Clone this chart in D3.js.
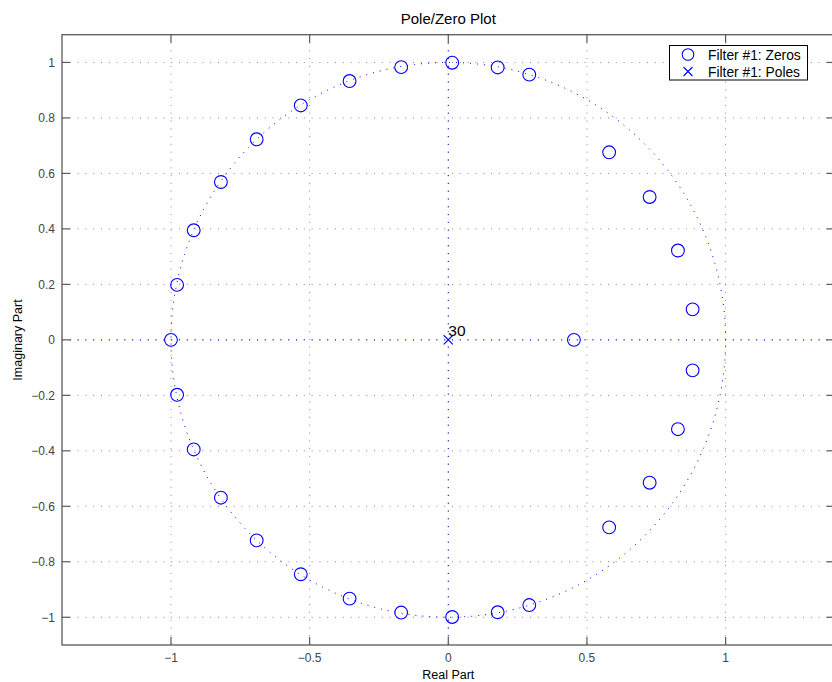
<!DOCTYPE html>
<html>
<head>
<meta charset="utf-8">
<script src="https://cdn.jsdelivr.net/npm/d3@7"></script>
<style>
  html, body { margin: 0; padding: 0; background: #fff; }
  svg { display: block; font-family: "Liberation Sans", Arial, Helvetica, sans-serif; }
</style>
</head>
<body>
<svg id="chart" width="832" height="682"></svg>
<script>
// ---- data ----
const zerosRe = [-0.170, 0.014, 0.178, 0.292, -0.356, -0.532, -0.691, -0.820, -0.918, -0.978,
                 0.580, 0.726, 0.828, 0.881,
                 -1.000, 0.453,
                 -0.170, 0.014, 0.178, 0.292, -0.356, -0.532, -0.691, -0.820, -0.918, -0.978,
                 0.580, 0.726, 0.828, 0.881];
const zerosIm = [0.983, 0.999, 0.982, 0.956, 0.933, 0.845, 0.723, 0.569, 0.395, 0.198,
                 0.676, 0.515, 0.322, 0.110,
                 0.000, 0.000,
                 -0.983, -0.999, -0.982, -0.956, -0.933, -0.845, -0.723, -0.569, -0.395, -0.198,
                 -0.676, -0.515, -0.322, -0.110];
const polesRe = [0];
const polesIm = [0];
const poleMultiplicity = ["30"];
const xTicks = [-1, -0.5, 0, 0.5, 1];
const xTickLabels = ["\u22121", "\u22120.5", "0", "0.5", "1"];
const yTicks = [-1, -0.8, -0.6, -0.4, -0.2, 0, 0.2, 0.4, 0.6, 0.8, 1];
const yTickLabels = ["\u22121", "\u22120.8", "\u22120.6", "\u22120.4", "\u22120.2", "0", "0.2", "0.4", "0.6", "0.8", "1"];
const legendLabels = ["Filter #1: Zeros", "Filter #1: Poles"];
const titleText = "Pole/Zero Plot";
const xLabelText = "Real Part";
const yLabelText = "Imaginary Part";

// ---- layout ----
const svg = d3.select("#chart");
const L = 62, R = 834.6, T = 34.7, B = 645;
const x = d3.scaleLinear().domain([-1.393, 1.393]).range([L, R]);
const y = d3.scaleLinear().domain([-1.1, 1.1]).range([B, T]);
const blue = "#0000ff";
const axisCol = "#5a5a5a";

svg.append("defs").append("clipPath").attr("id", "clip")
  .append("rect").attr("x", L).attr("y", T).attr("width", R - L).attr("height", B - T);

const plot = svg.append("g").attr("clip-path", "url(#clip)");

// grid
plot.selectAll(".gx").data(xTicks).enter().append("line")
  .attr("x1", d => x(d)).attr("x2", d => x(d)).attr("y1", T).attr("y2", B)
  .attr("stroke", "#888").attr("stroke-width", 1).attr("stroke-dasharray", "1,6.8");
plot.selectAll(".gy").data(yTicks).enter().append("line")
  .attr("y1", d => y(d)).attr("y2", d => y(d)).attr("x1", L).attr("x2", R)
  .attr("stroke", "#888").attr("stroke-width", 1).attr("stroke-dasharray", "1,6.8");

// unit circle & axes lines (blue dotted)
const circ = d3.range(0, 361, 1).map(a => [Math.cos(a * Math.PI / 180), Math.sin(a * Math.PI / 180)]);
plot.append("path")
  .attr("d", d3.line().x(d => x(d[0])).y(d => y(d[1]))(circ))
  .attr("fill", "none").attr("stroke", blue).attr("stroke-width", 1).attr("stroke-dasharray", "1,6");
plot.append("line").attr("x1", L).attr("x2", R).attr("y1", y(0)).attr("y2", y(0))
  .attr("stroke", blue).attr("stroke-width", 1).attr("stroke-dasharray", "1,6.8");
plot.append("line").attr("x1", x(0)).attr("x2", x(0)).attr("y1", T).attr("y2", B)
  .attr("stroke", blue).attr("stroke-width", 1).attr("stroke-dasharray", "1,6.8");

// zeros
plot.selectAll(".zero").data(zerosRe.map((r, i) => [r, zerosIm[i]])).enter().append("circle")
  .attr("cx", d => x(d[0])).attr("cy", d => y(d[1])).attr("r", 6.4)
  .attr("fill", "none").attr("stroke", blue).attr("stroke-width", 1.1);

// poles
const poles = polesRe.map((r, i) => [r, polesIm[i], poleMultiplicity[i]]);
const s = 4.6;
poles.forEach(p => {
  const px = x(p[0]), py = y(p[1]);
  plot.append("path")
    .attr("d", `M${px - s},${py - s}L${px + s},${py + s}M${px - s},${py + s}L${px + s},${py - s}`)
    .attr("stroke", blue).attr("stroke-width", 1.1).attr("fill", "none");
  svg.append("text").attr("x", px).attr("y", py - 3.5).text(p[2])
    .attr("font-size", 15.5).attr("fill", "#000");
});

// axes box
svg.append("rect").attr("x", L).attr("y", T).attr("width", R - L).attr("height", B - T)
  .attr("fill", "none").attr("stroke", axisCol).attr("stroke-width", 1.3);

// ticks (inward, all four sides)
const tl = 8;
xTicks.forEach(d => {
  svg.append("line").attr("x1", x(d)).attr("x2", x(d)).attr("y1", B).attr("y2", B - tl)
    .attr("stroke", axisCol).attr("stroke-width", 1.2);
  svg.append("line").attr("x1", x(d)).attr("x2", x(d)).attr("y1", T).attr("y2", T + tl)
    .attr("stroke", axisCol).attr("stroke-width", 1.2);
});
yTicks.forEach(d => {
  svg.append("line").attr("y1", y(d)).attr("y2", y(d)).attr("x1", L).attr("x2", L + tl)
    .attr("stroke", axisCol).attr("stroke-width", 1.2);
  svg.append("line").attr("y1", y(d)).attr("y2", y(d)).attr("x1", R).attr("x2", R - tl)
    .attr("stroke", axisCol).attr("stroke-width", 1.2);
});

// tick labels
svg.selectAll(".xtl").data(xTicks).enter().append("text")
  .attr("x", d => x(d)).attr("y", B + 17).attr("text-anchor", "middle")
  .attr("font-size", 12).attr("fill", "#444").text((d, i) => xTickLabels[i]);
svg.selectAll(".ytl").data(yTicks).enter().append("text")
  .attr("x", L - 7).attr("y", d => y(d) + 4.3).attr("text-anchor", "end")
  .attr("font-size", 12).attr("fill", "#444").text((d, i) => yTickLabels[i]);

// title & labels
svg.append("text").attr("x", 448.3).attr("y", 24).attr("text-anchor", "middle")
  .attr("font-size", 15).attr("fill", "#000").text(titleText);
svg.append("text").attr("x", 448.3).attr("y", 679).attr("text-anchor", "middle")
  .attr("font-size", 12.5).attr("fill", "#000").text(xLabelText);
svg.append("text").attr("transform", "translate(22,340) rotate(-90)").attr("text-anchor", "middle")
  .attr("font-size", 12.5).attr("fill", "#000").text(yLabelText);

// legend
const lg = svg.append("g");
lg.append("rect").attr("x", 669.5).attr("y", 45.5).attr("width", 138).attr("height", 34.5)
  .attr("fill", "#fff").attr("stroke", "#000").attr("stroke-width", 1);
lg.append("circle").attr("cx", 688).attr("cy", 54.5).attr("r", 5.8)
  .attr("fill", "none").attr("stroke", blue).attr("stroke-width", 1.1);
const lx = 688, ly = 71.5, ls = 4.5;
lg.append("path").attr("d", `M${lx - ls},${ly - ls}L${lx + ls},${ly + ls}M${lx - ls},${ly + ls}L${lx + ls},${ly - ls}`)
  .attr("stroke", blue).attr("stroke-width", 1.1);
lg.selectAll(".lt").data(legendLabels).enter().append("text")
  .attr("x", 708).attr("y", (d, i) => 59.5 + i * 17).attr("font-size", 13.8).attr("fill", "#000").text(d => d);
</script>
</body>
</html>
